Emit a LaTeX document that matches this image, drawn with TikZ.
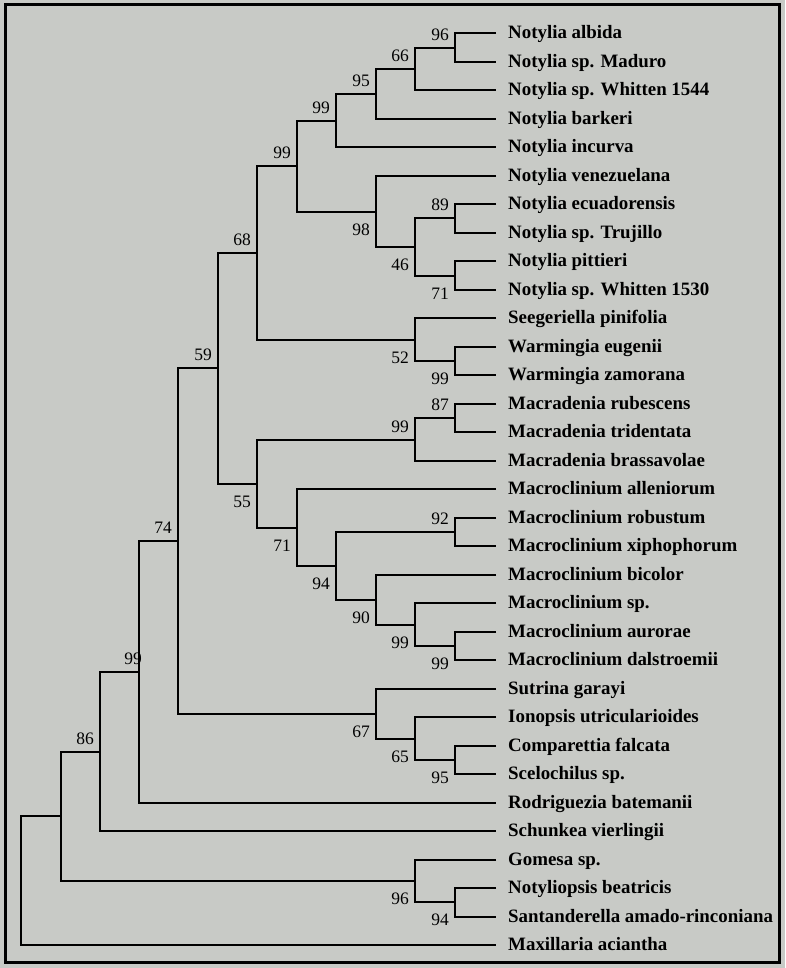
\documentclass[tikz,border=0pt]{standalone}
\usepackage{fontspec}
\setmainfont{Liberation Serif}
\definecolor{bgc}{RGB}{200,202,198}
\tikzset{
  br/.style={line width=2pt, line join=miter, draw=black},
  leaf/.style={anchor=base west, inner sep=0pt, xshift=12pt, yshift=-5.8pt,
    font=\fontsize{18.9}{20}\selectfont\bfseries},
  bsup/.style={anchor=south east, inner sep=0pt, xshift=-6pt, yshift=6.9pt,
    font=\fontsize{17.5}{18}\selectfont},
  bsdn/.style={anchor=north east, inner sep=0pt, xshift=-6pt, yshift=-11.7pt,
    font=\fontsize{17.5}{18}\selectfont},
  frame/.style={line width=3pt, draw=black}
}
\begin{document}
\begin{tikzpicture}[x=1pt,y=-1pt]
\fill[bgc] (0,0) rectangle (785,968);
\useasboundingbox (0,0) rectangle (785,968);
\draw[frame] (5.5,4.5) rectangle (779.5,962.5);

% leaf tips
\coordinate (t1) at (496,33);
\coordinate (t2) at (496,62);
\coordinate (t3) at (496,90);
\coordinate (t4) at (496,119);
\coordinate (t5) at (496,147);
\coordinate (t6) at (496,176);
\coordinate (t7) at (496,204);
\coordinate (t8) at (496,233);
\coordinate (t9) at (496,261);
\coordinate (t10) at (496,290);
\coordinate (t11) at (496,318);
\coordinate (t12) at (496,347);
\coordinate (t13) at (496,375);
\coordinate (t14) at (496,404);
\coordinate (t15) at (496,432);
\coordinate (t16) at (496,461);
\coordinate (t17) at (496,489);
\coordinate (t18) at (496,518);
\coordinate (t19) at (496,546);
\coordinate (t20) at (496,575);
\coordinate (t21) at (496,603);
\coordinate (t22) at (496,632);
\coordinate (t23) at (496,660);
\coordinate (t24) at (496,689);
\coordinate (t25) at (496,717);
\coordinate (t26) at (496,746);
\coordinate (t27) at (496,774);
\coordinate (t28) at (496,803);
\coordinate (t29) at (496,831);
\coordinate (t30) at (496,860);
\coordinate (t31) at (496,888);
\coordinate (t32) at (496,917);
\coordinate (t33) at (496,945);

\node[leaf] (L1) at (t1) {Notylia albida};
\node[leaf] (L2) at (t2) {Notylia sp. Maduro};
\node[leaf] (L3) at (t3) {Notylia sp. Whitten 1544};
\node[leaf] (L4) at (t4) {Notylia barkeri};
\node[leaf] (L5) at (t5) {Notylia incurva};
\node[leaf] (L6) at (t6) {Notylia venezuelana};
\node[leaf] (L7) at (t7) {Notylia ecuadorensis};
\node[leaf] (L8) at (t8) {Notylia sp. Trujillo};
\node[leaf] (L9) at (t9) {Notylia pittieri};
\node[leaf] (L10) at (t10) {Notylia sp. Whitten 1530};
\node[leaf] (L11) at (t11) {Seegeriella pinifolia};
\node[leaf] (L12) at (t12) {Warmingia eugenii};
\node[leaf] (L13) at (t13) {Warmingia zamorana};
\node[leaf] (L14) at (t14) {Macradenia rubescens};
\node[leaf] (L15) at (t15) {Macradenia tridentata};
\node[leaf] (L16) at (t16) {Macradenia brassavolae};
\node[leaf] (L17) at (t17) {Macroclinium alleniorum};
\node[leaf] (L18) at (t18) {Macroclinium robustum};
\node[leaf] (L19) at (t19) {Macroclinium xiphophorum};
\node[leaf] (L20) at (t20) {Macroclinium bicolor};
\node[leaf] (L21) at (t21) {Macroclinium sp.};
\node[leaf] (L22) at (t22) {Macroclinium aurorae};
\node[leaf] (L23) at (t23) {Macroclinium dalstroemii};
\node[leaf] (L24) at (t24) {Sutrina garayi};
\node[leaf] (L25) at (t25) {Ionopsis utricularioides};
\node[leaf] (L26) at (t26) {Comparettia falcata};
\node[leaf] (L27) at (t27) {Scelochilus sp.};
\node[leaf] (L28) at (t28) {Rodriguezia batemanii};
\node[leaf] (L29) at (t29) {Schunkea vierlingii};
\node[leaf] (L30) at (t30) {Gomesa sp.};
\node[leaf] (L31) at (t31) {Notyliopsis beatricis};
\node[leaf] (L32) at (t32) {Santanderella amado-rinconiana};
\node[leaf] (L33) at (t33) {Maxillaria aciantha};

% internal nodes
\coordinate (a96) at (455,48);
\coordinate (e89) at (455,218);
\coordinate (p71) at (455,276);
\coordinate (w99) at (455,361);
\coordinate (m87) at (455,418);
\coordinate (r92) at (455,532);
\coordinate (d99) at (455,646);
\coordinate (s95) at (455,760);
\coordinate (n94) at (455,902);
\coordinate (b66) at (415,69);
\coordinate (q46) at (415,247);
\coordinate (s52) at (415,340);
\coordinate (m99) at (415,440);
\coordinate (c99) at (415,625);
\coordinate (i65) at (415,739);
\coordinate (g96) at (415,881);
\coordinate (c95) at (376,94);
\coordinate (v98) at (376,212);
\coordinate (x90) at (376,600);
\coordinate (u67) at (376,714);
\coordinate (i99) at (336,121);
\coordinate (o94) at (336,566);
\coordinate (o99) at (297,166);
\coordinate (a71) at (297,528);
\coordinate (n68) at (257,253);
\coordinate (n55) at (257,484);
\coordinate (n59) at (218,368);
\coordinate (n74) at (178,541);
\coordinate (n99r) at (139,672);
\coordinate (n86) at (100,752);
\coordinate (nG) at (61,816);
\coordinate (root) at (21,880);

% branches
\draw[br] (nG) -| (root) |- (t33);
\draw[br] (n86) -| (nG) |- (g96);
\draw[br] (n99r) -| (n86) |- (t29);
\draw[br] (n74) -| (n99r) |- (t28);
\draw[br] (n59) -| (n74) |- (u67);
\draw[br] (n68) -| (n59) |- (n55);
\draw[br] (o99) -| (n68) |- (s52);
\draw[br] (i99) -| (o99) |- (v98);
\draw[br] (c95) -| (i99) |- (t5);
\draw[br] (b66) -| (c95) |- (t4);
\draw[br] (a96) -| (b66) |- (t3);
\draw[br] (t1) -| (a96) |- (t2);
\draw[br] (t6) -| (v98) |- (q46);
\draw[br] (e89) -| (q46) |- (p71);
\draw[br] (t7) -| (e89) |- (t8);
\draw[br] (t9) -| (p71) |- (t10);
\draw[br] (t11) -| (s52) |- (w99);
\draw[br] (t12) -| (w99) |- (t13);
\draw[br] (m99) -| (n55) |- (a71);
\draw[br] (m87) -| (m99) |- (t16);
\draw[br] (t14) -| (m87) |- (t15);
\draw[br] (t17) -| (a71) |- (o94);
\draw[br] (r92) -| (o94) |- (x90);
\draw[br] (t18) -| (r92) |- (t19);
\draw[br] (t20) -| (x90) |- (c99);
\draw[br] (t21) -| (c99) |- (d99);
\draw[br] (t22) -| (d99) |- (t23);
\draw[br] (t24) -| (u67) |- (i65);
\draw[br] (t25) -| (i65) |- (s95);
\draw[br] (t26) -| (s95) |- (t27);
\draw[br] (t30) -| (g96) |- (n94);
\draw[br] (t31) -| (n94) |- (t32);

% support values
\node[bsup] (B1) at (a96) {96};
\node[bsup] (B2) at (b66) {66};
\node[bsup] (B3) at (c95) {95};
\node[bsup] (B4) at (i99) {99};
\node[bsup] (B5) at (o99) {99};
\node[bsup] (B6) at (n68) {68};
\node[bsup] (B7) at (e89) {89};
\node[bsup] (B8) at (n59) {59};
\node[bsup] (B9) at (m87) {87};
\node[bsup] (B10) at (m99) {99};
\node[bsup] (B11) at (r92) {92};
\node[bsup] (B12) at (n74) {74};
\node[bsup, xshift=9pt] (B13) at (n99r) {99};
\node[bsup] (B14) at (n86) {86};
\node[bsdn] (B15) at (v98) {98};
\node[bsdn] (B16) at (q46) {46};
\node[bsdn] (B17) at (p71) {71};
\node[bsdn] (B18) at (s52) {52};
\node[bsdn] (B19) at (w99) {99};
\node[bsdn] (B20) at (n55) {55};
\node[bsdn] (B21) at (a71) {71};
\node[bsdn] (B22) at (o94) {94};
\node[bsdn] (B23) at (x90) {90};
\node[bsdn] (B24) at (c99) {99};
\node[bsdn] (B25) at (d99) {99};
\node[bsdn] (B26) at (u67) {67};
\node[bsdn] (B27) at (i65) {65};
\node[bsdn] (B28) at (s95) {95};
\node[bsdn] (B29) at (g96) {96};
\node[bsdn] (B30) at (n94) {94};
\end{tikzpicture}
\end{document}
